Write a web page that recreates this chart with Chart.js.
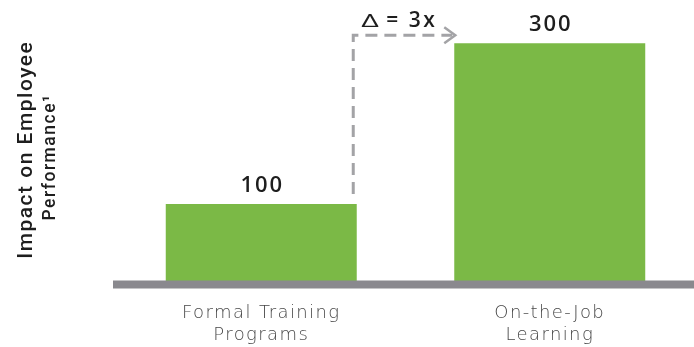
<!DOCTYPE html>
<html>
<head>
<meta charset="utf-8">
<script src="https://cdn.jsdelivr.net/npm/chart.js@4"></script>
<style>
  html, body { margin: 0; padding: 0; background: #fff; }
  #wrap { width: 694px; height: 347px; }
</style>
</head>
<body>
<div id="wrap"><canvas id="chartCanvas"></canvas></div>
<script>
const categories = [['Formal Training', 'Programs'], ['On-the-Job', 'Learning']];
const impactValues = [100, 300];
const yAxisTitle = ['Impact on Employee', 'Performance¹'];
const deltaSymbol = 'Δ';
const deltaText = '= 3x';
const yMax = 350;

// y title, value labels, baseline and the dashed "3x" arrow
const overlayPlugin = {
  id: 'overlay',
  beforeDraw(chart) {
    // tick labels are drawn with a little extra tracking
    chart.ctx.letterSpacing = '1.4px';
  },
  afterDatasetsDraw(chart) {
    const ctx = chart.ctx;
    const area = chart.chartArea;
    const yScale = chart.scales.y;
    const bars = chart.getDatasetMeta(0).data;
    const zero = yScale.getPixelForValue(0);
    const midY = (area.top + area.bottom) / 2;

    ctx.save();

    // axis title, two lines of different size
    ctx.save();
    ctx.fillStyle = '#1e1e1e';
    ctx.textAlign = 'center';
    ctx.textBaseline = 'alphabetic';
    ctx.translate(32, midY + 6);
    ctx.rotate(-Math.PI / 2);
    ctx.letterSpacing = '1.5px';
    ctx.font = '500 21px Roboto';
    ctx.fillText(yAxisTitle[0], 0, 0);
    ctx.font = '500 17.5px Roboto';
    ctx.fillText(yAxisTitle[1], -7.5, 23);
    ctx.restore();

    // baseline
    ctx.fillStyle = '#8a898e';
    ctx.fillRect(area.left - 4, zero - 4, area.right - area.left + 4, 8);

    // value labels
    ctx.fillStyle = '#1e1e1e';
    ctx.font = '600 22px "Open Sans"';
    ctx.letterSpacing = '2px';
    ctx.textAlign = 'center';
    ctx.textBaseline = 'alphabetic';
    bars.forEach((bar, i) => {
      ctx.fillText(String(impactValues[i]), bar.x + 1, bar.y - 12);
    });

    // dashed arrow from first bar up and across to the second
    const first = bars[0], second = bars[1];
    const vx = first.x + first.width / 2 - 3.5;
    const hy = second.y - 8;
    const tipX = second.x - second.width / 2 + 1;
    ctx.strokeStyle = '#a3a3a6';
    ctx.lineWidth = 3;
    ctx.setLineDash([12, 7]);
    ctx.beginPath();
    ctx.moveTo(vx, first.y - 10);
    ctx.lineTo(vx, hy);
    ctx.lineTo(tipX - 3, hy);
    ctx.stroke();
    ctx.setLineDash([]);
    ctx.lineWidth = 2.5;
    ctx.beginPath();
    ctx.moveTo(tipX - 11, hy - 8);
    ctx.lineTo(tipX, hy);
    ctx.lineTo(tipX - 11, hy + 8);
    ctx.stroke();

    // delta label
    ctx.fillStyle = '#1e1e1e';
    ctx.textAlign = 'left';
    ctx.letterSpacing = '0px';
    ctx.save();
    ctx.translate(vx + 8, hy - 8);
    ctx.scale(1.6, 1);
    ctx.font = '19px "Open Sans"';
    ctx.fillText(deltaSymbol, 0, 0);
    ctx.restore();
    ctx.font = '600 21px "Open Sans"';
    ctx.letterSpacing = '2.5px';
    ctx.fillText(deltaText, vx + 33, hy - 8);
    ctx.restore();
  }
};

const ctx = document.getElementById('chartCanvas').getContext('2d');
const myChart = new Chart(ctx, {
  type: 'bar',
  data: {
    labels: categories,
    datasets: [{
      data: impactValues,
      backgroundColor: '#7bb946',
      borderWidth: 0,
      categoryPercentage: 0.662,
      barPercentage: 1
    }]
  },
  options: {
    responsive: true,
    maintainAspectRatio: false,
    animation: false,
    layout: { padding: { top: 3, right: 0, left: 0, bottom: 0 } },
    plugins: {
      legend: { display: false },
      tooltip: { enabled: false }
    },
    scales: {
      x: {
        afterFit(scale) { scale.height = 62.5; },
        grid: { display: false, drawTicks: false },
        border: { display: false },
        ticks: {
          color: '#484848',
          padding: 18,
          font: { family: 'DejaVu Sans', size: 18, weight: '200', lineHeight: 1.2 }
        }
      },
      y: {
        min: 0,
        max: yMax,
        afterFit(scale) { scale.width = 117; },
        grid: { display: false, drawTicks: false },
        border: { display: false },
        ticks: { display: false }
      }
    }
  },
  plugins: [overlayPlugin]
});
</script>
</body>
</html>
